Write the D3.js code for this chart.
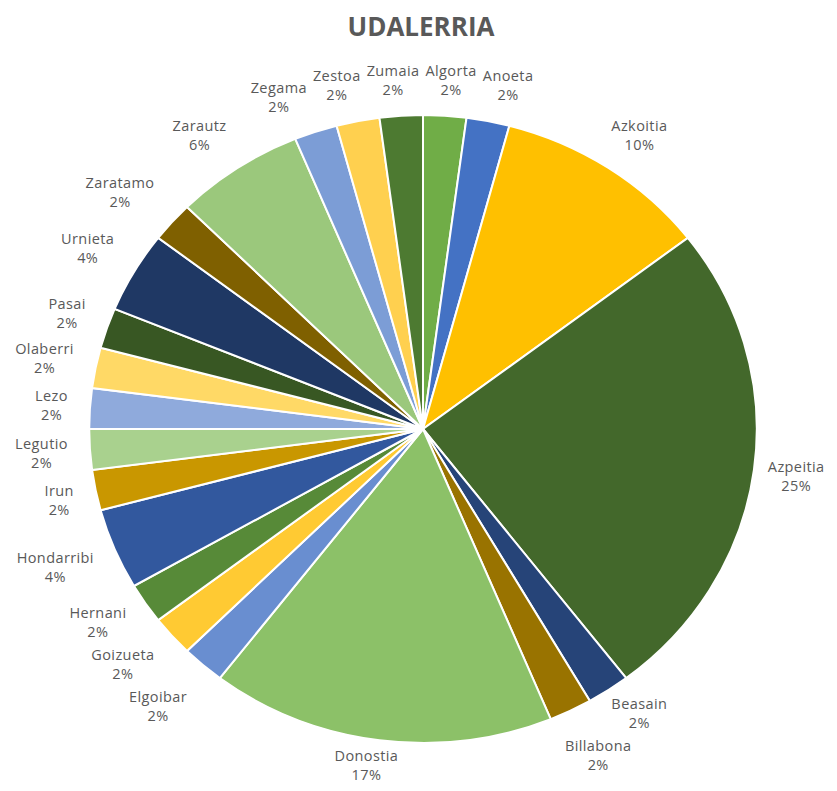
<!DOCTYPE html>
<html><head><meta charset="utf-8">
<script src="https://cdn.jsdelivr.net/npm/d3@7"></script>
<style>body{margin:0;background:#fff}</style>
</head><body>
<svg id="chart" width="837" height="791"></svg>
<script>
const title = "UDALERRIA";
const categories = ["Algorta","Anoeta","Azkoitia","Azpeitia","Beasain","Billabona","Donostia","Elgoibar","Goizueta","Hernani","Hondarribi","Irun","Legutio","Lezo","Olaberri","Pasai","Urnieta","Zaratamo","Zarautz","Zegama","Zestoa","Zumaia"];
const values = [1,1,5,12,1,1,8,1,1,1,2,1,1,1,1,1,2,1,3,1,1,1];
const colors = ["#70AD47","#4472C4","#FFC000","#43682B","#264478","#997300","#8CC168","#698ED0","#FFCA33","#578A38","#32589E","#C99700","#A9D18E","#8FAADC","#FFD966","#385723","#1F3864","#7F6000","#9BC87C","#7C9DD6","#FFD04F","#4D7A31"];

const W = 837, H = 791;
const cx = 423, cy = 429, R = 314, kx = 1.063;
const svg = d3.select("#chart");
const total = d3.sum(values);
const fmt = d3.format(".0%");

svg.append("text")
  .attr("x", 421).attr("y", 36)
  .attr("text-anchor", "middle")
  .attr("font-family", "'Open Sans', sans-serif")
  .attr("font-weight", "bold")
  .attr("font-size", 26)
  .attr("fill", "#595959")
  .text(title);

const data = categories.map((c, i) => ({name: c, value: values[i], color: colors[i]}));
const pie = d3.pie().value(d => d.value).sort(null);
const arcs = pie(data);
const arc = d3.arc().innerRadius(0).outerRadius(R);

const g = svg.append("g").attr("transform", `translate(${cx},${cy}) scale(${kx},1)`);
g.selectAll("path").data(arcs).join("path")
  .attr("d", arc)
  .attr("fill", d => d.data.color)
  .attr("stroke", "#fff")
  .attr("stroke-width", 2)
  .attr("vector-effect", "non-scaling-stroke");

// labels (outside end, nudged apart when they collide)
const lh = 19, boxH = 38, gap = 17, lcx = cx - 4;
const clamp = t => Math.max(-1, Math.min(1, 1.6 * t));
const labels = arcs.map(d => ({d, th: (d.startAngle + d.endAngle) / 2}));
const lg = svg.append("g");
labels.forEach(L => {
  const t = lg.append("text")
    .attr("text-anchor", "middle")
    .attr("font-family", "'Open Sans', sans-serif")
    .attr("font-size", 14.5)
    .attr("letter-spacing", 0.4)
    .attr("fill", "#595959");
  t.append("tspan").attr("class", "n").text(L.d.data.name);
  t.append("tspan").attr("class", "p").text(fmt(L.d.data.value / total));
  L.node = t;
  const w = Math.max(t.select(".n").node().getComputedTextLength(), t.select(".p").node().getComputedTextLength());
  L.w = w; L.h = boxH;
  const rl = R + gap;
  const px = lcx + rl * kx * Math.sin(L.th);
  const py = cy - rl * Math.cos(L.th);
  L.x = px + w / 2 * clamp(Math.sin(L.th));
  L.y = Math.min(H - 26, py - boxH / 2 * clamp(Math.cos(L.th)));
});
const pad = 6;
for (let it = 0; it < 200; it++) {
  let moved = false;
  for (let i = 0; i < labels.length; i++) {
    for (let j = i + 1; j < labels.length; j++) {
      const a = labels[i], b = labels[j];
      const ox = (a.w + b.w) / 2 + pad - Math.abs(a.x - b.x);
      const oy = (a.h + b.h) / 2 + 4 - Math.abs(a.y - b.y);
      if (ox > 0 && oy > 0) {
        moved = true;
        if (ox < oy) {
          const s = a.x < b.x ? -1 : 1;
          a.x += s * ox / 4; b.x -= s * ox / 4;
        } else {
          const s = a.y < b.y ? -1 : 1;
          a.y += s * oy / 4; b.y -= s * oy / 4;
        }
      }
    }
  }
  if (!moved) break;
}
labels.forEach(L => {
  L.node.select(".n").attr("x", L.x).attr("y", L.y - lh / 2).attr("dominant-baseline", "central");
  L.node.select(".p").attr("x", L.x).attr("y", L.y + lh / 2).attr("dominant-baseline", "central");
});
</script>
</body></html>
